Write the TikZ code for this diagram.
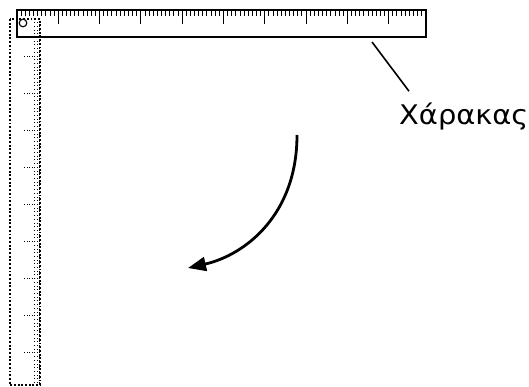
\documentclass[tikz,border=0pt]{standalone}
\usepackage{fontspec}
\newfontfamily\labelfont[FakeStretch=1.07]{DejaVu Sans}
\usetikzlibrary{arrows.meta}

\begin{document}
\begin{tikzpicture}[
  x=1pt, y=-1pt,
  rul/.style={draw, line width=1.1pt},
  tick/.style={draw, line width=1pt},
  dotrul/.style={draw, line width=1.9pt, dash pattern=on 1.9pt off 1.8pt},
  dottick/.style={draw, line width=1pt, dash pattern=on 1pt off 1.5pt},
  lbl/.style={font=\labelfont\fontsize{27}{32}\selectfont, inner sep=0pt, anchor=base west},
  >=Stealth
]
  \useasboundingbox (0,0) rectangle (529,387);

  \draw[dotrul] (10,19) rectangle (40,385);
  \foreach \i in {1,...,98}{
    \pgfmathsetmacro\tl{ifthenelse(mod(\i,10)==0,17,7)}
    \draw[dottick] (40,{19+3.71*\i}) -- ++(-\tl,0);
  }

  \draw[rul] (17,10) rectangle (426,37);
  \draw[rul] (23,23) circle (3.8);
  \foreach \i in {1,...,98}{
    \pgfmathsetmacro\tl{ifthenelse(mod(\i,10)==0,14,6)}
    \draw[tick] ({17+4.13*\i},10) -- ++(0,\tl);
  }

  \node[lbl] (label) at (399,125) {Χάρακας};
  \coordinate (rulerpt) at (372,42);
  \draw[line width=1.6pt] (rulerpt) -- ([xshift=10pt,yshift=12pt]label.north west);

  \coordinate (turnstart) at (297,135);
  \coordinate (turnend) at (188,268);
  \draw[line width=2.8pt, arrows={-Triangle[length=18pt,width=14pt]}]
    (turnstart) .. controls +(0,80) and +(57,-13) .. (turnend);
\end{tikzpicture}
\end{document}
